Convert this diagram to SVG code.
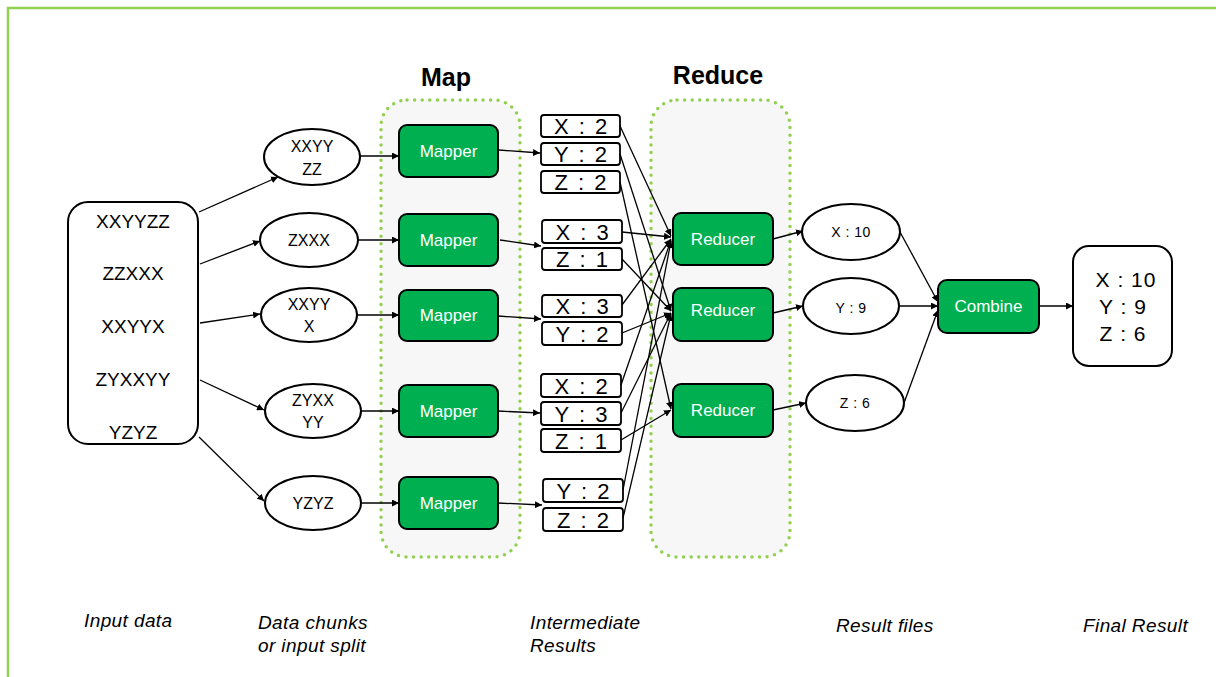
<svg xmlns="http://www.w3.org/2000/svg" width="1216" height="677" viewBox="0 0 1216 677">
<style>
text{font-family:"Liberation Sans","DejaVu Sans",sans-serif;fill:#000;text-anchor:middle}
.frame{fill:none;stroke:#92d050;stroke-width:2.5}
.zone{fill:#f7f7f7;stroke:#92d050;stroke-width:3.5;stroke-dasharray:0 7.6;stroke-linecap:round}
.box{fill:#fff;stroke:#000;stroke-width:2}
.ell{fill:#fff;stroke:#000;stroke-width:2}
.green{fill:#00b050;stroke:#000;stroke-width:2}
.kv{fill:#fff;stroke:#000;stroke-width:1.8}
.gt{fill:#fff;font-size:17px}
.in{font-size:19px}
.ch{font-size:16px}
.kt{font-size:22px;letter-spacing:2px}
.rt{font-size:14px;letter-spacing:0.5px}
.ft{font-size:21px;letter-spacing:1px}
.hd{font-size:25px;font-weight:bold}
.lb{font-size:19px;font-style:italic;text-anchor:start;letter-spacing:0.4px}
#connectors line{stroke:#000;stroke-width:1.3;marker-end:url(#ah)}
</style>
<defs>
<marker id="ah" viewBox="0 0 10 10" refX="10" refY="5" markerWidth="7" markerHeight="7" markerUnits="userSpaceOnUse" orient="auto">
<path d="M0,0 L10,5 L0,10 z" fill="#000"/>
</marker>
</defs>
<path class="frame" d="M8,677 V8 H1216"/>
<g id="zones">
<rect class="zone" x="381" y="100" width="139" height="457" rx="26"/>
<rect class="zone" x="651" y="100" width="139" height="457" rx="26"/>
</g>
<text class="hd" x="446" y="86">Map</text>
<text class="hd" x="718" y="84">Reduce</text>
<g id="input">
<rect class="box" x="68" y="202" width="130" height="242" rx="20"/>
<text class="in" x="133" y="228">XXYYZZ</text>
<text class="in" x="133" y="280">ZZXXX</text>
<text class="in" x="133" y="333">XXYYX</text>
<text class="in" x="133" y="386">ZYXXYY</text>
<text class="in" x="133" y="439">YZYZ</text>
</g>
<g id="chunk1"><ellipse class="ell" cx="312" cy="157" rx="48" ry="28"/><text class="ch" x="312" y="152">XXYY</text><text class="ch" x="312" y="175">ZZ</text></g>
<g id="chunk2"><ellipse class="ell" cx="309" cy="240" rx="49" ry="27"/><text class="ch" x="309" y="246">ZXXX</text></g>
<g id="chunk3"><ellipse class="ell" cx="309" cy="315" rx="48" ry="27"/><text class="ch" x="309" y="310">XXYY</text><text class="ch" x="309" y="332">X</text></g>
<g id="chunk4"><ellipse class="ell" cx="313" cy="411" rx="48" ry="27"/><text class="ch" x="313" y="406">ZYXX</text><text class="ch" x="313" y="428">YY</text></g>
<g id="chunk5"><ellipse class="ell" cx="313" cy="503" rx="48" ry="27"/><text class="ch" x="313" y="509">YZYZ</text></g>
<g id="mapper1"><rect class="green" x="399" y="125" width="99" height="52" rx="8"/><text class="gt" x="448.5" y="157">Mapper</text></g>
<g id="mapper2"><rect class="green" x="399" y="214" width="99" height="52" rx="8"/><text class="gt" x="448.5" y="246">Mapper</text></g>
<g id="mapper3"><rect class="green" x="399" y="290" width="99" height="51" rx="8"/><text class="gt" x="448.5" y="321">Mapper</text></g>
<g id="mapper4"><rect class="green" x="399" y="385" width="99" height="52" rx="8"/><text class="gt" x="448.5" y="417">Mapper</text></g>
<g id="mapper5"><rect class="green" x="399" y="477" width="99" height="52" rx="8"/><text class="gt" x="448.5" y="509">Mapper</text></g>
<g id="kv1">
<rect class="kv" x="541" y="115" width="79" height="22" rx="3"/><text class="kt" x="581.5" y="134">X : 2</text>
<rect class="kv" x="541" y="143" width="79" height="22" rx="3"/><text class="kt" x="581.5" y="162">Y : 2</text>
<rect class="kv" x="541" y="171" width="79" height="22" rx="3"/><text class="kt" x="581.5" y="190">Z : 2</text>
</g>
<g id="kv2">
<rect class="kv" x="542" y="220" width="80" height="23" rx="3"/><text class="kt" x="583" y="240">X : 3</text>
<rect class="kv" x="542" y="248" width="80" height="22" rx="3"/><text class="kt" x="583" y="267">Z : 1</text>
</g>
<g id="kv3">
<rect class="kv" x="542" y="295" width="80" height="22" rx="3"/><text class="kt" x="583" y="314">X : 3</text>
<rect class="kv" x="542" y="322" width="80" height="23" rx="3"/><text class="kt" x="583" y="342">Y : 2</text>
</g>
<g id="kv4">
<rect class="kv" x="541" y="374" width="80" height="23" rx="3"/><text class="kt" x="582" y="394">X : 2</text>
<rect class="kv" x="541" y="402" width="80" height="23" rx="3"/><text class="kt" x="582" y="422">Y : 3</text>
<rect class="kv" x="541" y="429" width="80" height="23" rx="3"/><text class="kt" x="582" y="449">Z : 1</text>
</g>
<g id="kv5">
<rect class="kv" x="543" y="479" width="80" height="23" rx="3"/><text class="kt" x="584" y="499">Y : 2</text>
<rect class="kv" x="543" y="508" width="80" height="23" rx="3"/><text class="kt" x="584" y="528">Z : 2</text>
</g>
<g id="reducer1"><rect class="green" x="673" y="213" width="100" height="52" rx="8"/><text class="gt" x="723" y="245">Reducer</text></g>
<g id="reducer2"><rect class="green" x="673" y="288" width="100" height="53" rx="8"/><text class="gt" x="723" y="316">Reducer</text></g>
<g id="reducer3"><rect class="green" x="673" y="384" width="100" height="53" rx="8"/><text class="gt" x="723" y="416">Reducer</text></g>
<g id="result1"><ellipse class="ell" cx="851" cy="232" rx="49" ry="28"/><text class="rt" x="851" y="237">X : 10</text></g>
<g id="result2"><ellipse class="ell" cx="851" cy="306" rx="48" ry="28"/><text class="rt" x="851" y="313">Y : 9</text></g>
<g id="result3"><ellipse class="ell" cx="855" cy="403" rx="49" ry="28"/><text class="rt" x="855" y="408">Z : 6</text></g>
<g id="combine"><rect class="green" x="938" y="280" width="101" height="53" rx="9"/><text class="gt" x="988.5" y="312">Combine</text></g>
<g id="final">
<rect class="box" x="1073" y="246" width="99" height="120" rx="16"/>
<text class="ft" x="1126" y="287">X : 10</text>
<text class="ft" x="1123" y="314">Y : 9</text>
<text class="ft" x="1123" y="341">Z : 6</text>
</g>
<g id="connectors">
<line x1="199" y1="212" x2="278" y2="177"/>
<line x1="200" y1="264" x2="260" y2="241"/>
<line x1="200" y1="323" x2="260" y2="314"/>
<line x1="200" y1="380" x2="264" y2="410"/>
<line x1="199" y1="437" x2="264" y2="501"/>
<line x1="360" y1="156" x2="399" y2="156"/>
<line x1="358" y1="240" x2="399" y2="240"/>
<line x1="357" y1="315" x2="399" y2="315"/>
<line x1="361" y1="411" x2="399" y2="411"/>
<line x1="361" y1="503" x2="399" y2="503"/>
<line x1="499" y1="150" x2="540" y2="153"/>
<line x1="500" y1="240" x2="541" y2="246"/>
<line x1="498" y1="316" x2="541" y2="319"/>
<line x1="498" y1="411" x2="540" y2="413"/>
<line x1="498" y1="503" x2="542" y2="505"/>
<line x1="620" y1="126" x2="671" y2="236"/>
<line x1="620" y1="154" x2="671" y2="311"/>
<line x1="620" y1="182" x2="671" y2="409"/>
<line x1="622" y1="232" x2="671" y2="237"/>
<line x1="622" y1="259" x2="671" y2="311"/>
<line x1="622" y1="305" x2="671" y2="239"/>
<line x1="622" y1="333" x2="671" y2="313"/>
<line x1="621" y1="385" x2="671" y2="240"/>
<line x1="621" y1="413" x2="671" y2="313"/>
<line x1="621" y1="440" x2="671" y2="410"/>
<line x1="623" y1="490" x2="671" y2="241"/>
<line x1="623" y1="518" x2="671" y2="314"/>
<line x1="773" y1="239" x2="803" y2="231"/>
<line x1="773" y1="313" x2="803" y2="306"/>
<line x1="773" y1="410" x2="806" y2="403"/>
<line x1="900" y1="232" x2="938" y2="302"/>
<line x1="899" y1="306" x2="938" y2="306"/>
<line x1="904" y1="403" x2="938" y2="310"/>
<line x1="1039" y1="306" x2="1073" y2="306"/>
</g>
<g id="labels">
<text class="lb" x="84" y="627">Input data</text>
<text class="lb" x="258" y="629">Data chunks</text>
<text class="lb" x="258" y="652">or input split</text>
<text class="lb" x="530" y="629">Intermediate</text>
<text class="lb" x="530" y="652">Results</text>
<text class="lb" x="836" y="632">Result files</text>
<text class="lb" x="1083" y="632">Final Result</text>
</g>
</svg>
